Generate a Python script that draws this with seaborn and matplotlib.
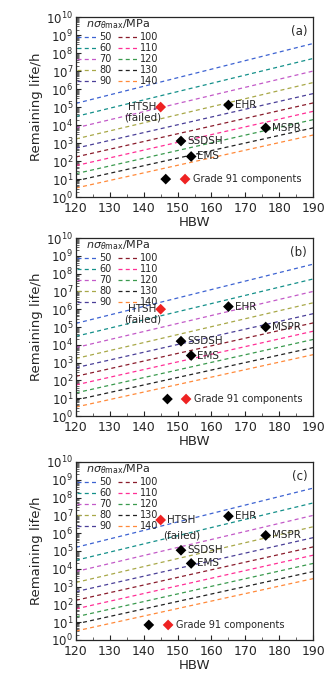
import numpy as np
import pandas as pd
import matplotlib
matplotlib.use("Agg")
import matplotlib.pyplot as plt
from matplotlib.ticker import LogLocator, LogFormatterMathtext, MultipleLocator
import seaborn as sns

# ---- data ----
stress = [50, 60, 70, 80, 90, 100, 110, 120, 130, 140]
hbw_ends = [120, 190]
life_at_120 = [1.6e5, 3.0e4, 7.0e3, 1.7e3, 5.2e2, 1.7e2, 5.6e1, 2.0e1, 8.0, 3.2]
life_at_190 = [3.4e8, 5.0e7, 1.0e7, 2.3e6, 5.6e5, 1.7e5, 5.8e4, 2.0e4, 7.0e3, 2.8e3]
line_colors = ["#3d63d2", "#14908a", "#c35ac8", "#a8a848", "#4a3f98",
               "#8a1c2c", "#ff2f96", "#3a9a4e", "#222222", "#ff8a3a"]

comp_names = ["HTSH", "EHR", "MSPR", "SSDSH", "EMS"]
comp_hbw = [145, 165, 176, 151, 154]
comp_failed = [True, False, False, False, False]
life_a = [1.0e5, 1.3e5, 7.0e3, 1.3e3, 1.8e2]
life_b = [1.0e6, 1.4e6, 1.0e5, 1.6e4, 2.5e3]
life_c = [5.5e6, 9.0e6, 7.5e5, 1.1e5, 2.0e4]
panel_lives = [life_a, life_b, life_c]
panel_tags = ["(a)", "(b)", "(c)"]
key_hbw = [(146.5, 152.2), (147, 152.5), (141.5, 147.2)]
key_life = [10.0, 9.0, 7.0]

# ---- style ----
sns.set_style("ticks")
plt.rcParams["font.family"] = ["DejaVu Sans"]
plt.rcParams["mathtext.fontset"] = "dejavusans"

DASH_SEQ = (3.2, 2.6)
DASH = (0, DASH_SEQ)

lines_df = pd.DataFrame({
    "stress": np.repeat(stress, 2),
    "HBW": hbw_ends * len(stress),
    "life": np.ravel(np.column_stack([life_at_120, life_at_190])),
})
palette = dict(zip(stress, line_colors))
dash_map = {s: DASH_SEQ for s in stress}

fig = plt.figure(figsize=(3.36, 6.82), dpi=100)
positions = [
    [0.226, 0.711, 0.706, 0.264],
    [0.226, 0.390, 0.706, 0.261],
    [0.226, 0.0616, 0.706, 0.261],
]

for i, pos in enumerate(positions):
    ax = fig.add_axes(pos)
    sns.lineplot(data=lines_df, x="HBW", y="life", hue="stress", style="stress",
                 palette=palette, dashes=dash_map, ax=ax, linewidth=0.9, legend=True)
    for ln in ax.get_lines():
        ln.set_linestyle(DASH)
    ax.set_yscale("log")
    comp_df = pd.DataFrame({"HBW": comp_hbw, "life": panel_lives[i],
                            "failed": comp_failed})
    sns.scatterplot(data=comp_df, x="HBW", y="life", hue="failed",
                    palette={True: "#ee2222", False: "black"}, marker="D",
                    s=30, edgecolor="none", ax=ax, legend=False, zorder=5)
    key_df = pd.DataFrame({"HBW": list(key_hbw[i]), "life": [key_life[i]] * 2,
                           "failed": [False, True]})
    sns.scatterplot(data=key_df, x="HBW", y="life", hue="failed",
                    palette={True: "#ee2222", False: "black"}, marker="D",
                    s=30, edgecolor="none", ax=ax, legend=False, zorder=5)
    ax.text(key_hbw[i][1] + 2.4, key_life[i], "Grade 91 components",
            fontsize=7, va="center", ha="left")

    lv = panel_lives[i]
    if i < 2:
        ax.text(comp_hbw[0] - 1.2, lv[0], "HTSH", fontsize=7.5, ha="right", va="center")
        ax.text(comp_hbw[0] - 5.3, lv[0] / 4.0, "(failed)", fontsize=7.5, ha="center", va="center")
    else:
        ax.text(comp_hbw[0] + 1.8, lv[0], "HTSH", fontsize=7.5, ha="left", va="center")
        ax.text(comp_hbw[0] + 6.3, lv[0] / 7.0, "(failed)", fontsize=7.5, ha="center", va="center")
    for name, hx, l in zip(comp_names[1:], comp_hbw[1:], lv[1:]):
        ax.text(hx + 1.8, l, name, fontsize=7.5, ha="left", va="center")

    ax.text(0.975, 0.955, panel_tags[i], transform=ax.transAxes, fontsize=8.5,
            ha="right", va="top")

    ax.set_xlim(120, 190)
    ax.set_ylim(1, 1e10)
    ax.xaxis.set_major_locator(MultipleLocator(10))
    ax.xaxis.set_minor_locator(MultipleLocator(5))
    ax.yaxis.set_major_locator(LogLocator(base=10, numticks=12))
    ax.yaxis.set_minor_locator(LogLocator(base=10, subs=np.arange(2, 10), numticks=12))
    ax.yaxis.set_major_formatter(LogFormatterMathtext())
    ax.tick_params(which="both", direction="in", top=False, right=False)
    ax.tick_params(which="major", length=3.5, width=0.8, labelsize=8.5, pad=2)
    ax.tick_params(axis="x", which="major", pad=3.5, labelsize=9)
    ax.tick_params(which="minor", length=2, width=0.5)
    for sp in ax.spines.values():
        sp.set_linewidth(0.9)
    ax.set_xlabel("HBW", fontsize=9.5, labelpad=1)
    ax.set_ylabel("Remaining life/h", fontsize=9.5, labelpad=2)

    handles, labels = ax.get_legend_handles_labels()
    for h in handles:
        h.set_linestyle(DASH)
    leg = ax.legend(handles, labels, ncol=2, frameon=False, fontsize=7,
                    title=r"$n\sigma_{\theta\mathrm{max}}$/MPa", title_fontsize=8,
                    loc="upper left", bbox_to_anchor=(-0.02, 1.03),
                    handlelength=2.0, handletextpad=0.3, columnspacing=0.6,
                    labelspacing=0.1, borderaxespad=0.2)

fig.savefig("out.png", dpi=100)
